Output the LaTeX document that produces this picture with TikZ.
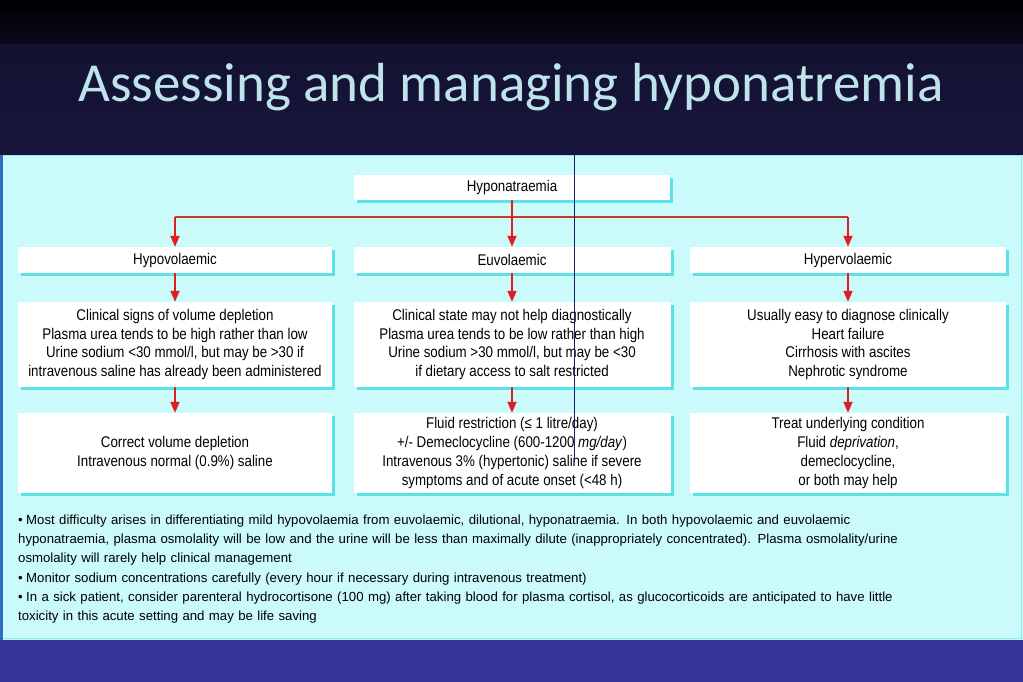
\documentclass[tikz,border=0pt]{standalone}
\usepackage{fontspec}
\setmainfont{Liberation Sans}
\newfontfamily\titlefont{Carlito}
\newfontfamily\boxfont{Liberation Sans}[FakeStretch=0.86]
\usepackage{tikz}
\usepackage{xcolor}
\usetikzlibrary{positioning,arrows.meta,calc,shadows}
\definecolor{slideband}{HTML}{141230}
\definecolor{slidebandlow}{HTML}{17153C}
\definecolor{slidebase}{HTML}{333399}
\definecolor{panel}{HTML}{CAFAFA}
\definecolor{panelrim}{HTML}{2F6CC0}
\definecolor{boxshade}{HTML}{5AE2E8}
\definecolor{accent}{HTML}{DD1F1F}
\definecolor{forkred}{HTML}{C23A2C}
\definecolor{titlecol}{HTML}{BEE3EA}
\definecolor{penline}{HTML}{1B1A70}
\newcommand{\notepoint}{\noindent\makebox[8pt][l]{\textbullet}\hangindent=8pt\hangafter=1 }

\tikzset{
  flowbox/.style={fill=white,inner sep=2pt,align=center,
    drop shadow={shadow xshift=3pt,shadow yshift=-3pt,fill=boxshade,opacity=1}},
  flowarrow/.style={accent,line width=1.8pt,-{Triangle[length=11pt,width=9pt]}},
  notes/.style={anchor=north west,inner sep=0pt,text width=900pt,align=left,
    font=\fontsize{13.2}{19.1}\selectfont}
}

\begin{document}
\begin{tikzpicture}[x=1pt,y=-1pt,every node/.style={font=\boxfont\fontsize{15.5}{18.7}\selectfont}]
    \useasboundingbox (0,0) rectangle (1023,682);
    % Slide background
    \shade[top color=black,bottom color=slideband!60!black] (0,0) rectangle (1023,45);
    \shade[top color=slideband,bottom color=slidebandlow] (0,45) rectangle (1023,155);
    \fill[slidebase] (0,640) rectangle (1023,682);
    \fill[panel] (0,155) rectangle (1023,640);
    \fill[panelrim] (0,155) rectangle (3,640);
    \draw[boxshade!60!panel,line width=1pt] (3,156) -- (1021,156) -- (1021,638) -- (3,638);
    % Title
    \node[anchor=base,text=titlecol,font=\titlefont\fontsize{55}{60}\selectfont] (title) at (511,102)
      {Assessing and managing hyponatremia};
    % Top of the tree
    \node[flowbox,minimum width=316pt,minimum height=25pt] (hyponat) at (512,187.5) {Hyponatraemia};
    \node[flowbox,minimum width=314pt,minimum height=26pt] (hypo) at (175,260) {Hypovolaemic};
    \node[flowbox,minimum width=317pt,minimum height=26pt] (euvo) at (512,260) {Euvolaemic};
    \node[flowbox,minimum width=316pt,minimum height=26pt] (hyper) at (848,260) {Hypervolaemic};
    % Findings
    \node[flowbox,minimum width=314pt,minimum height=85pt] (hypoSigns) at (175,344.5)
      {Clinical signs of volume depletion\\ Plasma urea tends to be high rather than low\\
       Urine sodium <30 mmol/l, but may be >30 if\\ intravenous saline has already been administered};
    \node[flowbox,minimum width=317pt,minimum height=85pt] (euvoSigns) at (512,344.5)
      {Clinical state may not help diagnostically\\ Plasma urea tends to be low rather than high\\
       Urine sodium >30 mmol/l, but may be <30\\ if dietary access to salt restricted};
    \node[flowbox,minimum width=316pt,minimum height=85pt] (hyperSigns) at (848,344.5)
      {Usually easy to diagnose clinically\\ Heart failure\\ Cirrhosis with ascites\\ Nephrotic syndrome};
    % Treatment
    \node[flowbox,minimum width=314pt,minimum height=80pt] (hypoTreat) at (175,453)
      {Correct volume depletion\\ Intravenous normal (0.9\%) saline};
    \node[flowbox,minimum width=317pt,minimum height=80pt] (euvoTreat) at (512,453)
      {Fluid restriction (≤ 1 litre/day)\\ +/- Demeclocycline (600-1200 \textit{mg/day})\\
       Intravenous 3\% (hypertonic) saline if severe\\ symptoms and of acute onset (<48 h)};
    \node[flowbox,minimum width=316pt,minimum height=80pt] (hyperTreat) at (848,453)
      {Treat underlying condition\\ Fluid \textit{deprivation},\\ demeclocycline,\\ or both may help};
    % Arrows
    \coordinate (fork) at ($(hyponat.south)+(0,17)$);
    \draw[forkred,line width=1.6pt] (hypo.north |- fork) -- (hyper.north |- fork);
    \draw[flowarrow] (hyponat.south) -- (euvo.north);
    \draw[flowarrow] (hypo.north |- fork) -- (hypo.north);
    \draw[flowarrow] (hyper.north |- fork) -- (hyper.north);
    \foreach \col in {hypo,euvo,hyper}{
      \draw[flowarrow] (\col.south) -- (\col Signs.north);
      \draw[flowarrow] (\col Signs.south) -- (\col Treat.north);
    }
    % Stray pen line
    \draw[penline,line width=0.8pt] (574,155) -- (574,462);
    % Notes
    \node[notes] (notelist) at (18,515) {%
      \notepoint Most difficulty arises in differentiating mild hypovolaemia from euvolaemic, dilutional, hyponatraemia. In both hypovolaemic and euvolaemic\\
      hyponatraemia, plasma osmolality will be low and the urine will be less than maximally dilute (inappropriately concentrated). Plasma osmolality/urine\\
      osmolality will rarely help clinical management\par
      \notepoint Monitor sodium concentrations carefully (every hour if necessary during intravenous treatment)\par
      \notepoint In a sick patient, consider parenteral hydrocortisone (100 mg) after taking blood for plasma cortisol, as glucocorticoids are anticipated to have little\\
      toxicity in this acute setting and may be life saving};
\end{tikzpicture}
\end{document}
